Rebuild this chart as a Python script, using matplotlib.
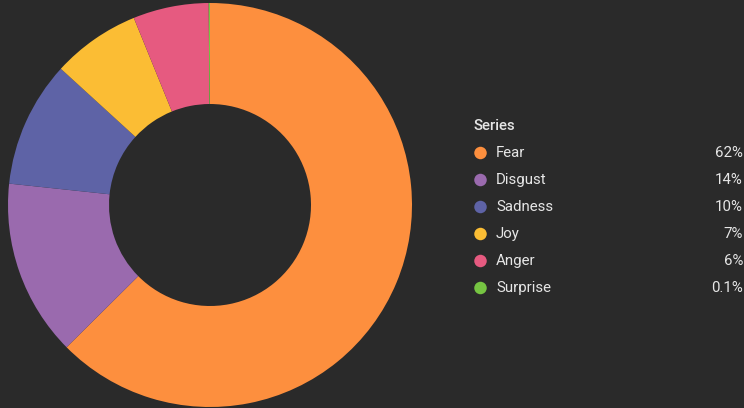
import matplotlib
matplotlib.use("Agg")
import matplotlib.pyplot as plt
from matplotlib.patches import Ellipse

# Share of each emotion (percent)
labels = ["Fear", "Disgust", "Sadness", "Joy", "Anger", "Surprise"]
shares = [62, 14, 10, 7, 6, 0.1]
colors = ["#fd8f3e", "#9a6aae", "#5e63a6", "#fbbd34", "#e65a80", "#76c442"]

bg = "#2a2a2a"
text_color = "#e6e6e6"

plt.rcParams["font.family"] = ["Roboto", "DejaVu Sans"]

W, H = 744, 408
fig = plt.figure(figsize=(W / 100, H / 100), dpi=100, facecolor=bg)

# Donut, centred at (210, 205) px with outer radius ~202 px
cx, cy, r = 210, 205, 202
ax = fig.add_axes([(cx - r) / W, (H - cy - r) / H, 2 * r / W, 2 * r / H])
ax.set_facecolor(bg)
ax.pie(shares, colors=colors, startangle=90, counterclock=False,
       radius=1.0, wedgeprops=dict(width=0.5, linewidth=0))
ax.set_xlim(-1, 1)
ax.set_ylim(-1, 1)
ax.set_aspect("equal")
ax.axis("off")

# Legend drawn in pixel coordinates
def px(x, y):
    return x / W, 1 - y / H

fs = 10.8
fig.text(*px(473, 126), "Series", color=text_color, fontsize=fs,
         fontweight="medium", ha="left", va="center")
for i, (lab, val, col) in enumerate(zip(labels, shares, colors)):
    y = 153 + i * 27
    fig.patches.append(Ellipse(px(480.5, y), 12.5 / W, 12.5 / H,
                               transform=fig.transFigure,
                               facecolor=col, edgecolor="none"))
    fig.text(*px(496, y), lab, color=text_color, fontsize=fs,
             ha="left", va="center")
    fig.text(*px(743, y), f"{val:g}%", color=text_color, fontsize=fs,
             ha="right", va="center")

fig.savefig("out.png", dpi=100, facecolor=bg)
